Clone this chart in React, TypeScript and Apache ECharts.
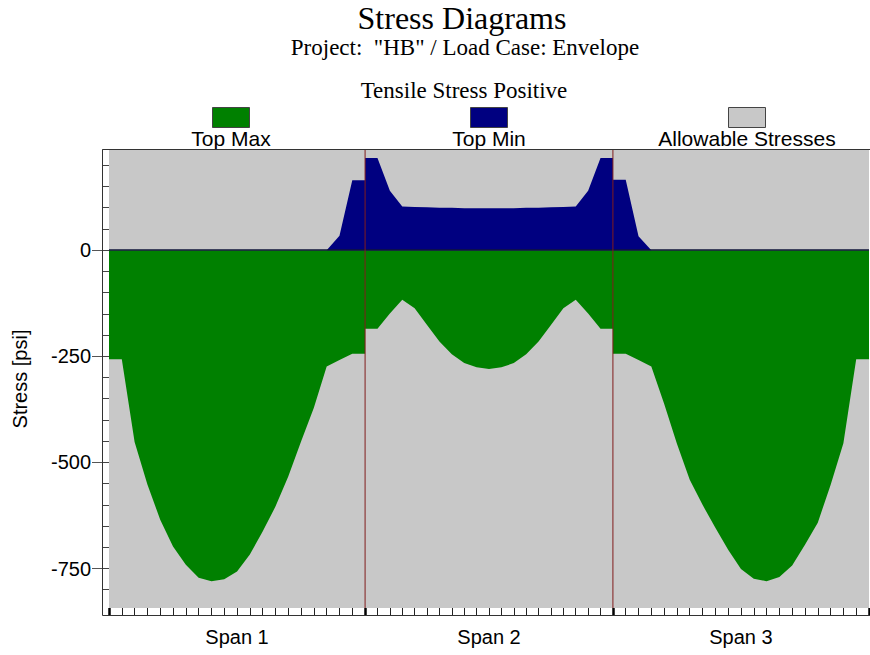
import React, { useEffect, useRef } from "react";
import * as echarts from "echarts";

// ---------- data ----------
const spanNames = ["Span 1", "Span 2", "Span 3"];
const spanLengths = [31, 30, 31]; // ft
const divisionsPerSpan = 20;

// Top Max stress (psi) at each 1/20 point of every span
const topMaxSpan1 = [-257, -257, -452, -552, -635, -698, -741, -772, -780, -775, -757, -717, -663, -604, -533, -451, -371, -274, -259, -244, -244];
const topMaxSpan2 = [-185, -185, -149, -117, -137, -176, -215, -245, -266, -276, -280, -276, -266, -245, -215, -176, -137, -117, -149, -185, -185];
const topMaxSpan3 = [-244, -244, -259, -274, -362, -456, -541, -600, -654, -706, -751, -774, -780, -770, -743, -694, -642, -553, -455, -257, -257];

// Top Min stress (psi)
const topMinSpan1 = [0, 0, 0, 0, 0, 0, 0, 0, 0, 0, 0, 0, 0, 0, 0, 0, 0, 0, 34, 165, 165];
const topMinSpan2 = [217, 217, 140, 103, 102, 101, 100, 100, 99, 99, 99, 99, 99, 100, 100, 101, 102, 103, 140, 217, 217];
const topMinSpan3 = [166, 166, 33, 0, 0, 0, 0, 0, 0, 0, 0, 0, 0, 0, 0, 0, 0, 0, 0, 0, 0];

// Allowable stresses (psi)
const allowableTension = 236;
const allowableCompression = -843;

const yLabelValues = [0, -250, -500, -750];
const yMinorStep = 50;

const legendNames = ["Top Max", "Top Min", "Allowable Stresses"];

const GREEN = "#008000";
const NAVY = "#000080";
const GRAY = "#c8c8c8";
const BOUNDARY = "#801c1c";

const titleText = "Stress Diagrams";
const subtitleText = 'Project:  "HB" / Load Case: Envelope';
const noteText = "Tensile Stress Positive";
const yAxisName = "Stress [psi]";

export default function App() {
  const ref = useRef<HTMLDivElement>(null);

  useEffect(() => {
    if (!ref.current) return;
    const chart = echarts.init(ref.current, undefined, { renderer: "svg" });

    const spanStarts: number[] = [];
    let acc = 0;
    spanLengths.forEach((l) => {
      spanStarts.push(acc);
      acc += l;
    });
    const total = acc;
    const boundaries = [...spanStarts, total];
    const mids = spanStarts.map((s, i) => s + spanLengths[i] / 2);

    const toPoints = (spans: number[][]) =>
      spans.flatMap((vals, i) =>
        vals.map((v, k) => [spanStarts[i] + (k * spanLengths[i]) / divisionsPerSpan, v])
      );

    const topMaxData = toPoints([topMaxSpan1, topMaxSpan2, topMaxSpan3]);
    const topMinData = toPoints([topMinSpan1, topMinSpan2, topMinSpan3]);
    const allowData = [
      [0, allowableTension],
      [total, allowableTension],
    ];
    const boundaryData = boundaries.slice(1, -1).flatMap((b) => [
      [b, allowableTension],
      [b, allowableCompression],
      null,
    ]);

    const stationTicks: number[] = [];
    spanLengths.forEach((l, i) => {
      for (let k = 0; k <= divisionsPerSpan; k++) stationTicks.push(spanStarts[i] + (k * l) / divisionsPerSpan);
    });

    const minorY: number[] = [];
    for (let v = Math.ceil(allowableCompression / yMinorStep) * yMinorStep; v <= allowableTension; v += yMinorStep) minorY.push(v);

    const sans = "'Liberation Sans', Arial, sans-serif";
    const serif = "'Liberation Serif', 'Times New Roman', serif";

    const gridLeft = 109;
    const gridTop = 150;
    const gridRight = 1;
    const gridBottom = 47;
    const W = 870;
    const H = 655;
    const axisOff = 7;
    const frameL = gridLeft - axisOff;
    const frameT = gridTop - 1;
    const frameB = H - gridBottom + axisOff;

    const legendCenters = [231, 489, 747];
    const legendColors = [GREEN, NAVY, GRAY];

    const graphics: any[] = [
      {
        type: "text",
        style: { text: titleText, x: 462, y: 18, align: "center", verticalAlign: "middle", font: `32px ${serif}`, fill: "#000" },
      },
      {
        type: "text",
        style: { text: subtitleText, x: 465, y: 47, align: "center", verticalAlign: "middle", font: `23px ${serif}`, fill: "#000" },
      },
      {
        type: "text",
        style: { text: noteText, x: 464, y: 90, align: "center", verticalAlign: "middle", font: `23px ${serif}`, fill: "#000" },
      },
      {
        type: "polyline",
        shape: { points: [[W, frameT + 0.5], [frameL + 0.5, frameT + 0.5], [frameL + 0.5, frameB + 0.5], [W, frameB + 0.5]] },
        style: { stroke: "#333", lineWidth: 1, fill: "none" },
        z: 100,
      },
    ];
    legendNames.forEach((name, i) => {
      graphics.push({
        type: "rect",
        shape: { x: legendCenters[i] - 19 + 0.5, y: 107.5, width: 37, height: 20 },
        style: { fill: legendColors[i], stroke: "#444", lineWidth: 1 },
      });
      graphics.push({
        type: "text",
        style: { text: name, x: legendCenters[i], y: 138, align: "center", verticalAlign: "middle", font: `21px ${sans}`, fill: "#000" },
      });
    });

    const option: any = {
      animation: false,
      backgroundColor: "#fff",
      grid: { left: gridLeft, top: gridTop, right: gridRight, bottom: gridBottom, containLabel: false },
      xAxis: [
        {
          type: "value",
          min: 0,
          max: total,
          position: "bottom",
          axisLine: { show: false, onZero: false },
          splitLine: { show: false },
          axisTick: { show: true, inside: false, length: axisOff, customValues: stationTicks, lineStyle: { color: "#222", width: 1 } },
          axisLabel: {
            show: true,
            customValues: mids,
            margin: 12 + axisOff,
            fontSize: 20,
            fontFamily: sans,
            color: "#000",
            formatter: (v: number) => {
              const idx = mids.findIndex((m) => Math.abs(m - v) < 1e-6);
              return idx >= 0 ? spanNames[idx] : "";
            },
          },
        },
        {
          type: "value",
          min: 0,
          max: total,
          position: "bottom",
          axisLine: { show: false, onZero: false },
          splitLine: { show: false },
          axisLabel: { show: false },
          axisTick: { show: true, inside: false, length: axisOff, customValues: boundaries, lineStyle: { color: "#000", width: 2.5 } },
        },
      ],
      yAxis: [
        {
          type: "value",
          min: allowableCompression,
          max: allowableTension,
          offset: axisOff,
          position: "left",
          name: yAxisName,
          nameLocation: "middle",
          nameGap: 72,
          nameTextStyle: { fontSize: 20, fontFamily: sans, color: "#000" },
          axisLine: { show: true, onZero: false, lineStyle: { color: "#333", width: 1 } },
          splitLine: { show: false },
          axisTick: { show: true, inside: false, length: 10, customValues: yLabelValues, lineStyle: { color: "#555", width: 1 } },
          axisLabel: { show: true, customValues: yLabelValues, margin: 11, fontSize: 20, fontFamily: sans, color: "#000" },
        },
        {
          type: "value",
          min: allowableCompression,
          max: allowableTension,
          position: "left",
          axisLine: { show: false, onZero: false },
          splitLine: { show: false },
          axisLabel: { show: false },
          axisTick: { show: true, inside: false, length: axisOff, customValues: minorY, lineStyle: { color: "#444", width: 1 } },
        },
      ],
      series: [
        {
          name: legendNames[2],
          type: "line",
          data: allowData,
          showSymbol: false,
          symbol: "none",
          lineStyle: { width: 0, opacity: 0 },
          areaStyle: { color: GRAY, opacity: 1, origin: "start" },
          z: 1,
          silent: true,
        },
        {
          name: legendNames[0],
          type: "line",
          data: topMaxData,
          showSymbol: false,
          symbol: "none",
          lineStyle: { width: 0, opacity: 0 },
          areaStyle: { color: GREEN, opacity: 1, origin: 0 },
          z: 2,
          silent: true,
        },
        {
          name: legendNames[1],
          type: "line",
          data: topMinData,
          showSymbol: false,
          symbol: "none",
          lineStyle: { width: 0, opacity: 0 },
          areaStyle: { color: NAVY, opacity: 1, origin: 0 },
          z: 3,
          silent: true,
          markLine: {
            silent: true,
            symbol: "none",
            label: { show: false },
            lineStyle: { color: "#10143a", width: 1.5, type: "solid" },
            data: [{ yAxis: 0 }],
          },
        },
        {
          name: "Span Boundaries",
          type: "line",
          data: boundaryData,
          connectNulls: false,
          showSymbol: false,
          symbol: "none",
          z: 10,
          silent: true,
          lineStyle: { color: BOUNDARY, width: 1, type: "solid", opacity: 1 },
        },
      ],
      graphic: graphics,
    };

    chart.setOption(option);
    return () => chart.dispose();
  }, []);

  return (
    <div
      ref={ref}
      style={{ position: "fixed", left: 0, top: 0, width: 870, height: 655, background: "#fff" }}
    />
  );
}
